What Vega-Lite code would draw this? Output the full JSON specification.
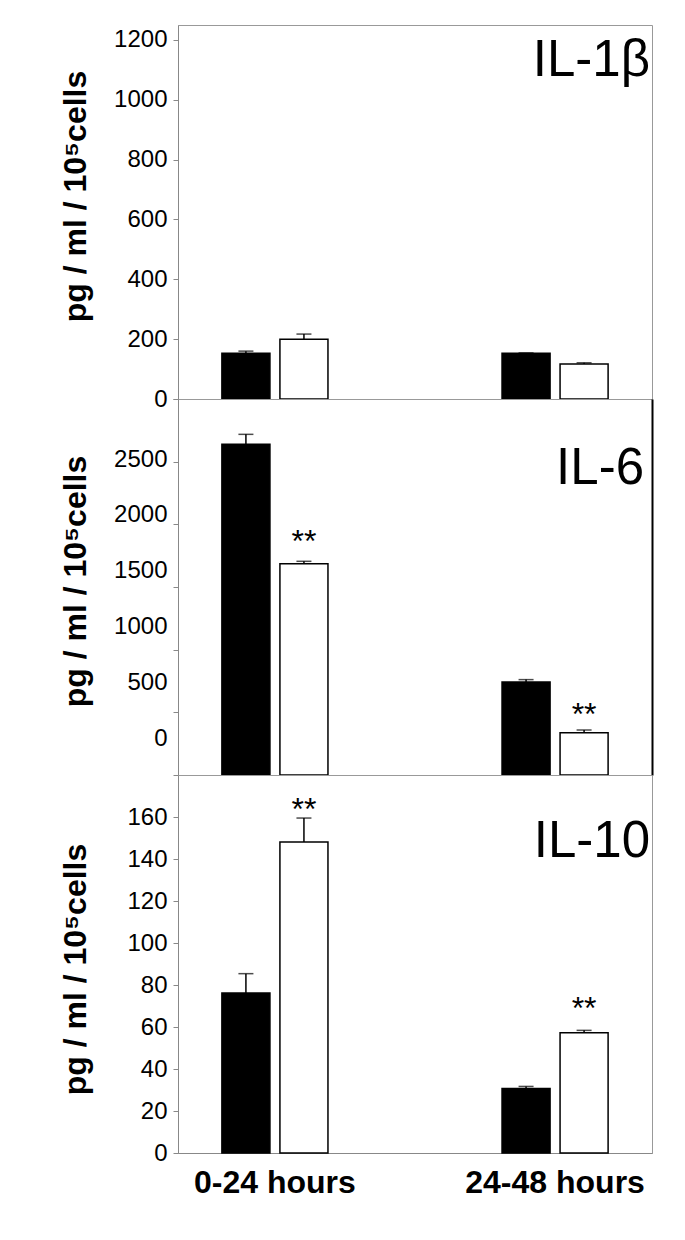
{
  "$schema": "https://vega.github.io/schema/vega-lite/v6.json",
  "background": "white",
  "padding": {"left": 58, "top": 24, "right": 5, "bottom": 5},
  "spacing": 0,
  "bounds": "flush",
  "config": {
    "font": "Liberation Sans, Arial, Helvetica, sans-serif",
    "view": {"stroke": "#999999", "strokeWidth": 1},
    "axis": {"grid": false, "domainColor": "#888888", "tickColor": "#888888", "labelColor": "black", "titleColor": "black", "labelFont": "Liberation Sans, Arial, sans-serif", "titleFont": "Liberation Sans, Arial, sans-serif"},
    "axisY": {"labelFontSize": 24, "tickSize": 5, "labelPadding": 6, "titleFontSize": 32, "titleFontWeight": "bold", "titleX": -86, "format": "d"},
    "axisX": {"ticks": false, "labelAngle": 0, "labelFontSize": 32, "labelFontWeight": "bold", "labelPadding": 14},
    "title": {"font": "Liberation Sans, Arial, sans-serif", "fontSize": 51, "fontWeight": "normal", "color": "black", "anchor": "end", "frame": "group", "baseline": "alphabetic"}
  },
  "datasets": {
    "il1b": [
      {"period": "0-24 hours", "group": "ctrl", "value": 153, "err": 160},
      {"period": "0-24 hours", "group": "treated", "value": 200, "err": 217},
      {"period": "24-48 hours", "group": "ctrl", "value": 153, "err": 154},
      {"period": "24-48 hours", "group": "treated", "value": 117, "err": 121}
    ],
    "il6": [
      {"period": "0-24 hours", "group": "ctrl", "value": 2639, "err": 2718},
      {"period": "0-24 hours", "group": "treated", "value": 1686, "err": 1705},
      {"period": "24-48 hours", "group": "ctrl", "value": 742, "err": 761},
      {"period": "24-48 hours", "group": "treated", "value": 338, "err": 359}
    ],
    "il10": [
      {"period": "0-24 hours", "group": "ctrl", "value": 76.2, "err": 85.4},
      {"period": "0-24 hours", "group": "treated", "value": 148.1, "err": 159.5},
      {"period": "24-48 hours", "group": "ctrl", "value": 30.7, "err": 31.7},
      {"period": "24-48 hours", "group": "treated", "value": 57.3, "err": 58.4}
    ],
    "stars6": [
      {"period": "0-24 hours", "group": "treated", "y": 1782, "label": "**"},
      {"period": "24-48 hours", "group": "treated", "y": 399, "label": "**"}
    ],
    "stars10": [
      {"period": "0-24 hours", "group": "treated", "y": 158.4, "label": "**"},
      {"period": "24-48 hours", "group": "treated", "y": 64, "label": "**"}
    ]
  },
  "vconcat": [
    {
      "width": 474, "height": 374,
      "title": {"text": "IL-1β", "orient": "top", "offset": -62, "dx": -2},
      "data": {"name": "il1b"},
      "encoding": {
        "x": {"field": "period", "type": "nominal", "scale": {"paddingInner": 0.5, "paddingOuter": 0.096}, "axis": {"labels": false, "title": null}},
        "xOffset": {"field": "group", "type": "nominal", "scale": {"domain": ["ctrl", "treated"], "paddingInner": 0.172, "paddingOuter": 0.293}}
      },
      "layer": [
        {"mark": {"type": "bar", "stroke": "black", "strokeWidth": 1.5},
         "encoding": {
           "y": {"field": "value", "type": "quantitative", "scale": {"domain": [0, 1250], "nice": false}, "axis": {"values": [0, 200, 400, 600, 800, 1000, 1200], "title": "pg / ml / 10⁵cells", "titleY": 171}},
           "color": {"field": "group", "type": "nominal", "scale": {"domain": ["ctrl", "treated"], "range": ["black", "white"]}, "legend": null}}},
        {"mark": {"type": "rule", "color": "black", "strokeWidth": 1.5},
         "encoding": {"y": {"field": "value", "type": "quantitative"}, "y2": {"field": "err"}}},
        {"mark": {"type": "tick", "color": "black", "thickness": 1.5, "size": 15},
         "encoding": {"y": {"field": "err", "type": "quantitative"}}}
      ]
    },
    {
      "width": 474, "height": 376,
      "title": {"text": "IL-6", "orient": "top", "offset": -96, "dx": -8},
      "encoding": {
        "x": {"field": "period", "type": "nominal", "scale": {"paddingInner": 0.5, "paddingOuter": 0.096}, "axis": {"labels": false, "title": null}},
        "xOffset": {"field": "group", "type": "nominal", "scale": {"domain": ["ctrl", "treated"], "paddingInner": 0.172, "paddingOuter": 0.293}}
      },
      "layer": [
        {
          "layer": [
            {"data": {"name": "il6"}, "mark": {"type": "bar", "stroke": "black", "strokeWidth": 1.5},
             "encoding": {
               "y": {"field": "value", "type": "quantitative", "scale": {"domain": [0, 3000], "nice": false}, "axis": {"values": [0, 500, 1000, 1500, 2000, 2500, 3000], "labels": false, "title": "pg / ml / 10⁵cells", "titleY": 182}},
               "color": {"field": "group", "type": "nominal", "scale": {"domain": ["ctrl", "treated"], "range": ["black", "white"]}, "legend": null}}},
            {"data": {"name": "il6"}, "mark": {"type": "rule", "color": "black", "strokeWidth": 1.5},
             "encoding": {"y": {"field": "value", "type": "quantitative"}, "y2": {"field": "err"}}},
            {"data": {"name": "il6"}, "mark": {"type": "tick", "color": "black", "thickness": 1.5, "size": 15},
             "encoding": {"y": {"field": "err", "type": "quantitative"}}},
            {"data": {"name": "stars6"}, "mark": {"type": "text", "fontSize": 32, "baseline": "alphabetic", "align": "center", "color": "black"},
             "encoding": {"y": {"field": "y", "type": "quantitative"}, "text": {"field": "label"}}}
          ]
        },
        {"data": {"name": "il6"}, "mark": {"type": "point", "opacity": 0},
         "encoding": {"y": {"field": "value", "type": "quantitative", "scale": {"domain": [-326, 3037], "nice": false, "zero": false},
           "axis": {"orient": "left", "values": [0, 500, 1000, 1500, 2000, 2500], "ticks": false, "tickSize": 0, "domain": false, "labelPadding": 11, "title": null}}}},
        {"data": {"name": "il6"}, "mark": {"type": "point", "opacity": 0},
         "encoding": {"y": {"field": "err", "type": "quantitative", "scale": {"domain": [0, 3000], "nice": false},
           "axis": {"orient": "right", "labels": false, "ticks": false, "domainColor": "black", "domainWidth": 2, "title": null}}}}
      ],
      "resolve": {"scale": {"y": "independent"}}
    },
    {
      "width": 474, "height": 378,
      "title": {"text": "IL-10", "orient": "top", "offset": -93, "dx": -2},
      "encoding": {
        "x": {"field": "period", "type": "nominal", "scale": {"paddingInner": 0.5, "paddingOuter": 0.096}, "axis": {"title": null}},
        "xOffset": {"field": "group", "type": "nominal", "scale": {"domain": ["ctrl", "treated"], "paddingInner": 0.172, "paddingOuter": 0.293}}
      },
      "layer": [
        {"data": {"name": "il10"}, "mark": {"type": "bar", "stroke": "black", "strokeWidth": 1.5},
         "encoding": {
           "y": {"field": "value", "type": "quantitative", "scale": {"domain": [0, 180], "nice": false}, "axis": {"values": [0, 20, 40, 60, 80, 100, 120, 140, 160], "title": "pg / ml / 10⁵cells", "titleY": 194}},
           "color": {"field": "group", "type": "nominal", "scale": {"domain": ["ctrl", "treated"], "range": ["black", "white"]}, "legend": null}}},
        {"data": {"name": "il10"}, "mark": {"type": "rule", "color": "black", "strokeWidth": 1.5},
         "encoding": {"y": {"field": "value", "type": "quantitative"}, "y2": {"field": "err"}}},
        {"data": {"name": "il10"}, "mark": {"type": "tick", "color": "black", "thickness": 1.5, "size": 15},
         "encoding": {"y": {"field": "err", "type": "quantitative"}}},
        {"data": {"name": "stars10"}, "mark": {"type": "text", "fontSize": 32, "baseline": "alphabetic", "align": "center", "color": "black"},
         "encoding": {"y": {"field": "y", "type": "quantitative"}, "text": {"field": "label"}}}
      ]
    }
  ]
}
